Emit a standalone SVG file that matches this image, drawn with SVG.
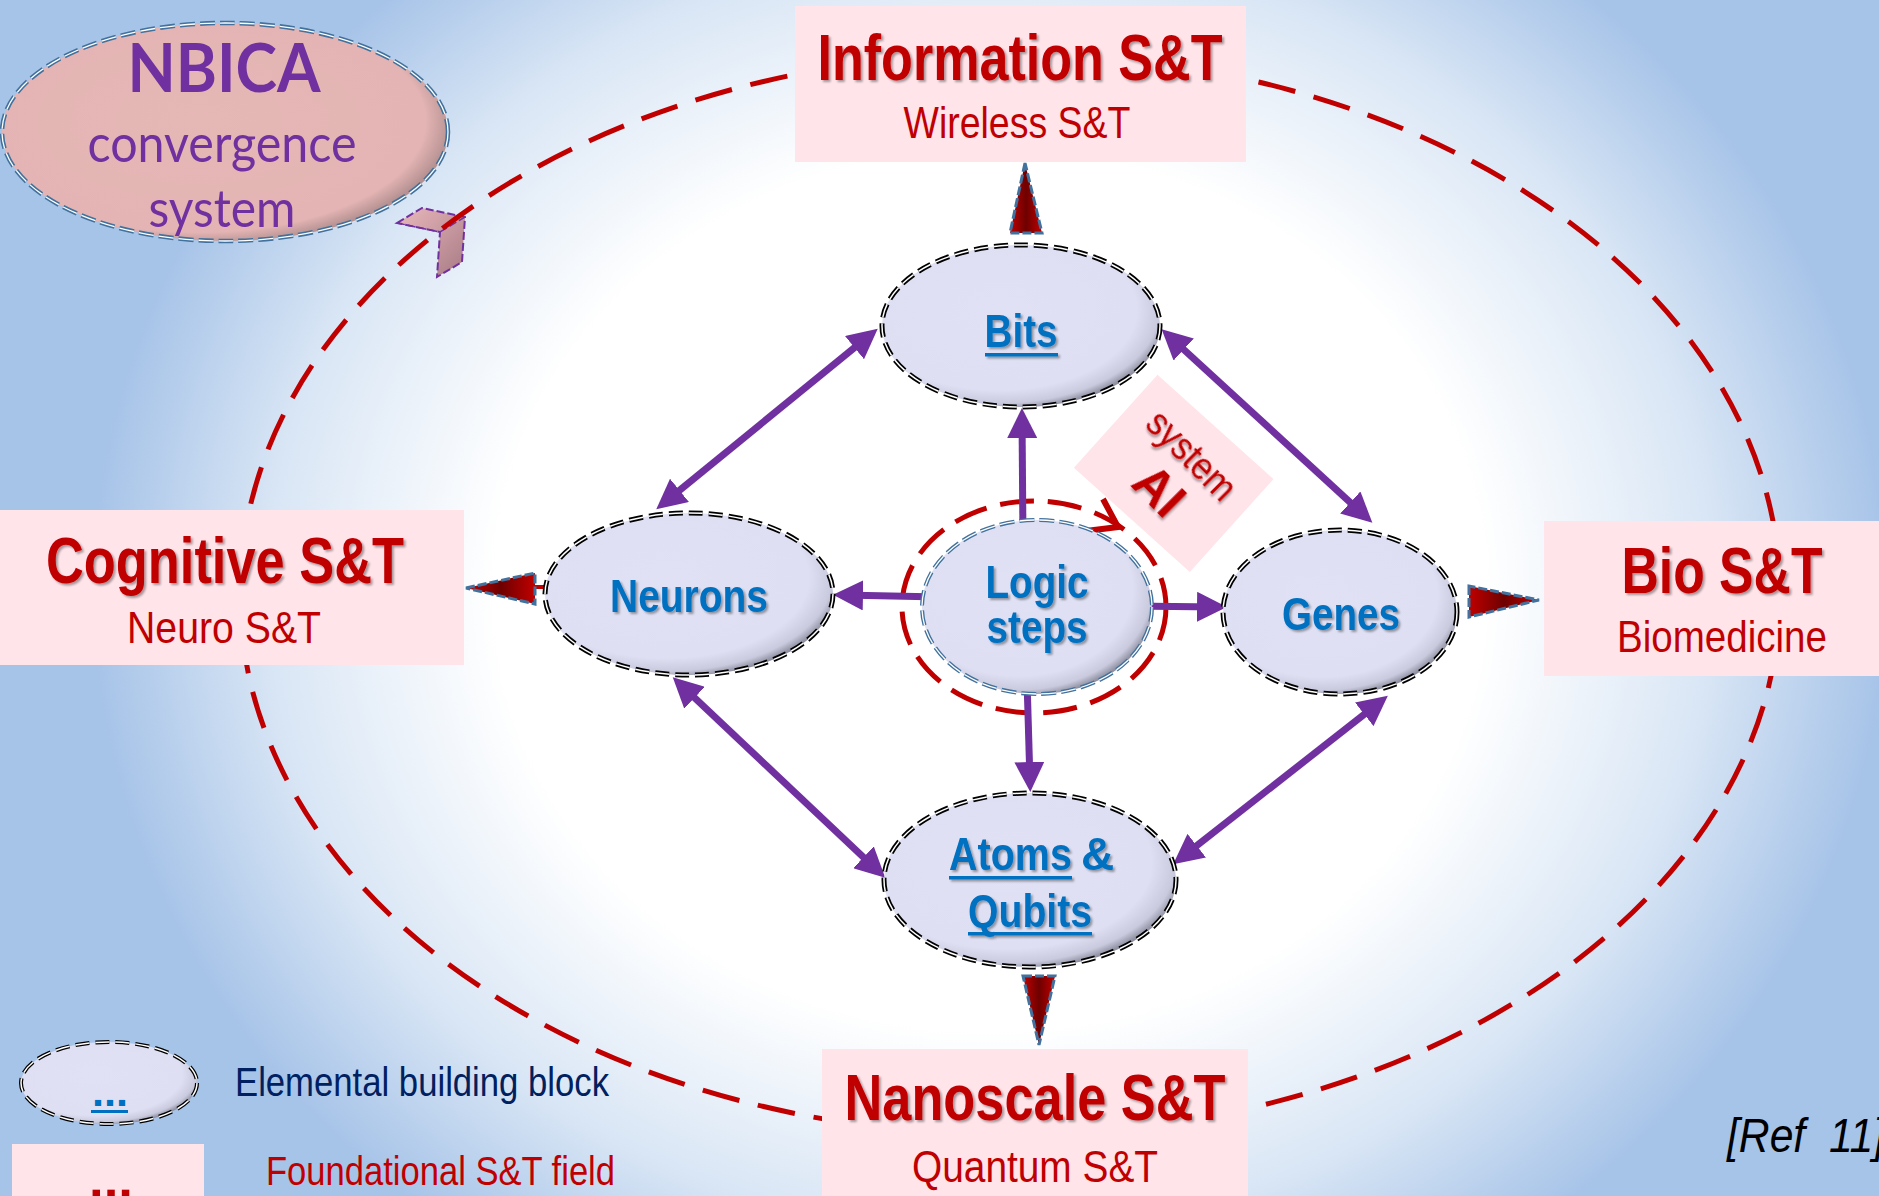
<svg xmlns="http://www.w3.org/2000/svg" width="1879" height="1196" viewBox="0 0 1879 1196">
<defs>
  <radialGradient id="bg" gradientUnits="userSpaceOnUse" cx="990" cy="590" r="900" gradientTransform="translate(990 590) scale(1 0.89) translate(-990 -590)">
    <stop offset="0" stop-color="#FFFFFF"/>
    <stop offset="0.55" stop-color="#FFFFFF"/>
    <stop offset="0.8" stop-color="#D9E6F5"/>
    <stop offset="1" stop-color="#A6C3E8"/>
  </radialGradient>
  <radialGradient id="nodeFill" cx="0.42" cy="0.4" r="0.62">
    <stop offset="0" stop-color="#E0E1F5"/>
    <stop offset="0.8" stop-color="#DEDFF3"/>
    <stop offset="0.93" stop-color="#C9CADD"/>
    <stop offset="1" stop-color="#8E8FA0"/>
  </radialGradient>
  <radialGradient id="nbicaFill" cx="0.44" cy="0.45" r="0.6">
    <stop offset="0" stop-color="#E5B7B5"/>
    <stop offset="0.85" stop-color="#E3B4B3"/>
    <stop offset="1" stop-color="#9E7F80"/>
  </radialGradient>
  <linearGradient id="triGrad" x1="0" y1="0" x2="1" y2="0">
    <stop offset="0" stop-color="#C00000"/>
    <stop offset="0.5" stop-color="#6E0000"/>
    <stop offset="1" stop-color="#C00000"/>
  </linearGradient>
  <linearGradient id="callGrad" x1="0" y1="0" x2="1" y2="1">
    <stop offset="0" stop-color="#E9B9BC"/>
    <stop offset="1" stop-color="#A87A84"/>
  </linearGradient>
  <marker id="ah" markerUnits="userSpaceOnUse" markerWidth="30" markerHeight="30" viewBox="0 0 30 30" refX="20" refY="15" orient="auto-start-reverse">
    <path d="M0,0 L30,15 L0,30 z" fill="#7030A0"/>
  </marker>
  <filter id="ts" x="-10%" y="-20%" width="130%" height="150%">
    <feDropShadow dx="2" dy="2" stdDeviation="1" flood-color="#000" flood-opacity="0.35"/>
  </filter>
</defs>
<style>
  .box{fill:#FFE4EA}
  .t1{font-family:'Liberation Sans Narrow','Liberation Sans',Arial,sans-serif;font-weight:bold;font-size:65px;fill:#C00000;text-anchor:middle}
  .t2{font-family:'Liberation Sans Narrow','Liberation Sans',Arial,sans-serif;font-size:44px;fill:#C00000;text-anchor:middle}
  .nt{font-family:'Liberation Sans Narrow','Liberation Sans',Arial,sans-serif;font-weight:bold;font-size:46px;fill:#0070C0;text-anchor:middle}
  .nd{fill:url(#nodeFill)}
  .bd1{fill:none;stroke:#000;stroke-width:5;stroke-dasharray:14 6}
  .bd2{fill:none;stroke:#fff;stroke-width:1.5;stroke-dasharray:14 6}
  .bb1{fill:none;stroke:#41719C;stroke-width:4.5;stroke-dasharray:15 5}
  .bb2{fill:none;stroke:#fff;stroke-width:1.3;stroke-dasharray:15 5}
  .arr{stroke:#7030A0;stroke-width:7;fill:none}
  .tri{fill:url(#triGrad);stroke:#41719C;stroke-width:3;stroke-dasharray:9 3}
  .ul{fill:#0070C0}
  .nb{font-family:Lato,'Open Sans',sans-serif;fill:#7030A0;text-anchor:middle}
</style>

<rect x="0" y="0" width="1879" height="1196" fill="url(#bg)"/>

<g id="nbica">
  <ellipse cx="225" cy="132" rx="223" ry="109" fill="url(#nbicaFill)"/>
  <ellipse cx="225" cy="132" rx="223" ry="109" class="bb1"/>
  <ellipse cx="225" cy="132" rx="223" ry="109" class="bb2"/>
  <text class="nb" x="224" y="92" font-size="66" font-weight="bold" textLength="193" lengthAdjust="spacingAndGlyphs">NBICA</text>
  <text class="nb" x="222" y="162" font-size="52" textLength="269" lengthAdjust="spacingAndGlyphs">convergence</text>
  <text class="nb" x="222" y="227" font-size="52" textLength="147" lengthAdjust="spacingAndGlyphs">system</text>
</g>
<g id="nbica-callout">
  <polygon points="397,223 422,208 465,217 462,262 437,277 440,232" fill="url(#callGrad)" stroke="#7030A0" stroke-width="2" stroke-dasharray="8 3"/>
  <polyline points="397,223 440,232 465,217" fill="none" stroke="#7030A0" stroke-width="1.5" stroke-dasharray="8 3"/>
</g>

<g id="system-ring">
  <ellipse cx="1010" cy="594" rx="770" ry="541" fill="none" stroke="#C00000" stroke-width="5" stroke-dasharray="38 19"/>
</g>

<g id="information">
  <rect class="box" x="795" y="6" width="451" height="156"/>
  <text class="t1" x="1020" y="80" textLength="405" lengthAdjust="spacingAndGlyphs" filter="url(#ts)">Information S&amp;T</text>
  <text class="t2" x="1017" y="138" textLength="227" lengthAdjust="spacingAndGlyphs">Wireless S&amp;T</text>
</g>
<g id="cognitive">
  <rect class="box" x="0" y="510" width="464" height="155"/>
  <text class="t1" x="225" y="583" textLength="358" lengthAdjust="spacingAndGlyphs" filter="url(#ts)">Cognitive S&amp;T</text>
  <text class="t2" x="224" y="643" textLength="194" lengthAdjust="spacingAndGlyphs">Neuro S&amp;T</text>
</g>
<g id="bio">
  <rect class="box" x="1544" y="521" width="335" height="155"/>
  <text class="t1" x="1722" y="593" textLength="201" lengthAdjust="spacingAndGlyphs" filter="url(#ts)">Bio S&amp;T</text>
  <text class="t2" x="1722" y="652" textLength="210" lengthAdjust="spacingAndGlyphs">Biomedicine</text>
</g>
<g id="nanoscale">
  <rect class="box" x="822" y="1049" width="426" height="150"/>
  <text class="t1" x="1035" y="1120" textLength="381" lengthAdjust="spacingAndGlyphs" filter="url(#ts)">Nanoscale S&amp;T</text>
  <text class="t2" x="1035" y="1182" textLength="246" lengthAdjust="spacingAndGlyphs">Quantum S&amp;T</text>
</g>

<g id="system-ai">
  <rect x="-78" y="-62" width="156" height="125" transform="translate(1174 473) rotate(42)" fill="#FFE4EA"/>
  <g transform="translate(1174 473) rotate(45)" filter="url(#ts)">
    <text x="0" y="-12" font-family="'Liberation Sans',Arial,sans-serif" font-size="38" fill="#C00000" text-anchor="middle" textLength="110" lengthAdjust="spacingAndGlyphs">system</text>
    <text x="2" y="40" font-family="'Liberation Sans',Arial,sans-serif" font-size="50" font-weight="bold" fill="#C00000" text-anchor="middle">AI</text>
  </g>
</g>

<g id="logic-ring">
  <ellipse cx="1034" cy="607" rx="132" ry="106" fill="none" stroke="#C00000" stroke-width="5" stroke-dasharray="34 14"/>
  <polyline points="1103,499 1118,527 1086,531" fill="none" stroke="#C00000" stroke-width="6"/>
</g>

<g id="connectors">
  <polygon class="tri" points="1025,163 1010,233 1042,233"/>
  <polygon class="tri" points="1023,976 1055,976 1039,1045"/>
  <line x1="534" y1="587" x2="547" y2="587" stroke="#C00000" stroke-width="4"/>
  <polygon class="tri" points="466,588 535,573 535,604"/>
  <polygon class="tri" points="1469,586 1469,617 1539,600"/>
  <line class="arr" x1="870" y1="335" x2="664" y2="503" marker-start="url(#ah)" marker-end="url(#ah)"/>
  <line class="arr" x1="1169" y1="336" x2="1365" y2="516" marker-start="url(#ah)" marker-end="url(#ah)"/>
  <line class="arr" x1="680" y1="684" x2="878" y2="871" marker-start="url(#ah)" marker-end="url(#ah)"/>
  <line class="arr" x1="1380" y1="702" x2="1181" y2="858" marker-start="url(#ah)" marker-end="url(#ah)"/>
  <line class="arr" x1="1023" y1="540" x2="1022" y2="418" marker-end="url(#ah)"/>
  <line class="arr" x1="940" y1="597" x2="843" y2="595" marker-end="url(#ah)"/>
  <line class="arr" x1="1130" y1="606" x2="1217" y2="607" marker-end="url(#ah)"/>
  <line class="arr" x1="1027" y1="680" x2="1030" y2="782" marker-end="url(#ah)"/>
</g>

<g id="bits">
  <ellipse class="nd" cx="1021" cy="326" rx="139" ry="81"/>
  <ellipse class="bd1" cx="1021" cy="326" rx="139" ry="81"/>
  <ellipse class="bd2" cx="1021" cy="326" rx="139" ry="81"/>
  <g filter="url(#ts)">
    <text class="nt" x="1021" y="347" textLength="73" lengthAdjust="spacingAndGlyphs">Bits</text>
    <rect class="ul" x="985" y="353" width="73" height="3.5"/>
  </g>
</g>
<g id="neurons">
  <ellipse class="nd" cx="689" cy="594" rx="144" ry="81"/>
  <ellipse class="bd1" cx="689" cy="594" rx="144" ry="81"/>
  <ellipse class="bd2" cx="689" cy="594" rx="144" ry="81"/>
  <text class="nt" x="689" y="612" textLength="158" lengthAdjust="spacingAndGlyphs" filter="url(#ts)">Neurons</text>
</g>
<g id="genes">
  <ellipse class="nd" cx="1340" cy="612" rx="117" ry="82"/>
  <ellipse class="bd1" cx="1340" cy="612" rx="117" ry="82"/>
  <ellipse class="bd2" cx="1340" cy="612" rx="117" ry="82"/>
  <text class="nt" x="1341" y="630" textLength="118" lengthAdjust="spacingAndGlyphs" filter="url(#ts)">Genes</text>
</g>
<g id="logic-steps">
  <ellipse class="nd" cx="1037" cy="607" rx="115" ry="87"/>
  <ellipse class="bb1" cx="1037" cy="607" rx="115" ry="87" style="stroke-width:4"/>
  <ellipse class="bb2" cx="1037" cy="607" rx="115" ry="87"/>
  <g filter="url(#ts)">
    <text class="nt" x="1037" y="598" textLength="103" lengthAdjust="spacingAndGlyphs">Logic</text>
    <text class="nt" x="1037" y="643" textLength="101" lengthAdjust="spacingAndGlyphs">steps</text>
  </g>
</g>
<g id="atoms-qubits">
  <ellipse class="nd" cx="1030" cy="880" rx="146" ry="87"/>
  <ellipse class="bd1" cx="1030" cy="880" rx="146" ry="87"/>
  <ellipse class="bd2" cx="1030" cy="880" rx="146" ry="87"/>
  <g filter="url(#ts)">
    <text class="nt" x="949" y="870" style="text-anchor:start" textLength="123" lengthAdjust="spacingAndGlyphs">Atoms</text>
    <text class="nt" x="1081" y="870" style="text-anchor:start">&amp;</text>
    <rect class="ul" x="949" y="876" width="123" height="3.5"/>
    <text class="nt" x="1030" y="927" textLength="124" lengthAdjust="spacingAndGlyphs">Qubits</text>
    <rect class="ul" x="968" y="932" width="124" height="3.5"/>
  </g>
</g>

<g id="legend-block">
  <ellipse class="nd" cx="109" cy="1083" rx="88" ry="41"/>
  <ellipse class="bd1" cx="109" cy="1083" rx="88" ry="41" style="stroke-width:4"/>
  <ellipse class="bd2" cx="109" cy="1083" rx="88" ry="41"/>
  <text class="nt" x="110" y="1106" style="font-size:40px" textLength="36" lengthAdjust="spacingAndGlyphs">...</text>
  <rect class="ul" x="91" y="1110" width="37" height="3"/>
  <text x="235" y="1096" font-family="'Liberation Sans Narrow','Liberation Sans',Arial,sans-serif" font-size="40" fill="#002060" textLength="374" lengthAdjust="spacingAndGlyphs">Elemental building block</text>
</g>
<g id="legend-field">
  <rect class="box" x="12" y="1144" width="192" height="54"/>
  <text x="111" y="1206" font-family="'Liberation Sans',Arial,sans-serif" font-size="110" font-weight="bold" fill="#C00000" text-anchor="middle" textLength="44" lengthAdjust="spacingAndGlyphs">...</text>
  <text x="266" y="1185" font-family="'Liberation Sans Narrow','Liberation Sans',Arial,sans-serif" font-size="40" fill="#C00000" textLength="349" lengthAdjust="spacingAndGlyphs">Foundational S&amp;T field</text>
</g>
<g id="reference">
  <text x="1727" y="1152" xml:space="preserve" font-family="'Liberation Sans Narrow','Liberation Sans',Arial,sans-serif" font-size="48" font-style="italic" fill="#000" textLength="158" lengthAdjust="spacingAndGlyphs">[Ref  11]</text>
</g>
</svg>
